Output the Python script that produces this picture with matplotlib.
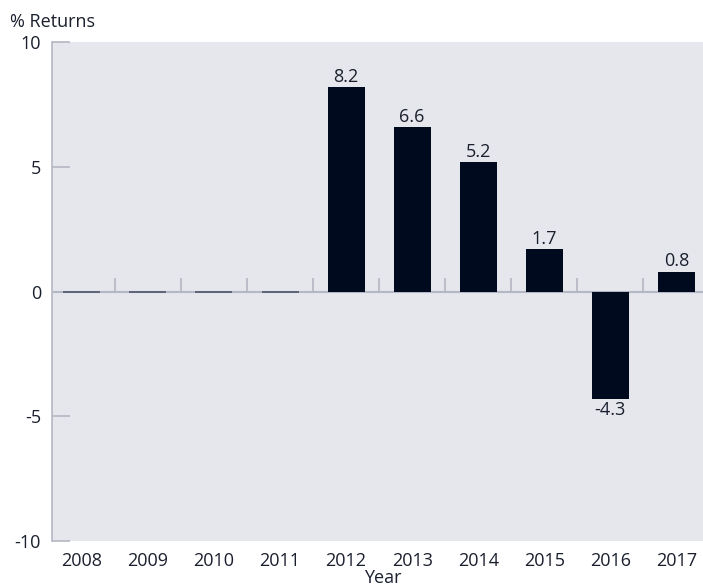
import matplotlib.pyplot as plt
import numpy as np

plt.rcParams['font.family'] = ['Open Sans', 'DejaVu Sans']

years = ['2008', '2009', '2010', '2011', '2012', '2013', '2014', '2015', '2016', '2017']
returns = [0, 0, 0, 0, 8.2, 6.6, 5.2, 1.7, -4.3, 0.8]
labels = ['', '', '', '', '8.2', '6.6', '5.2', '1.7', '-4.3', '0.8']

bar_col = '#000a1f'
bg = '#e6e7ec'
grey = '#b4b8c4'
text_col = '#1a1f2e'

fig = plt.figure(figsize=(7.03, 5.86), dpi=100)
ax = fig.add_axes([0.074, 0.077, 0.94, 0.851])
ax.set_facecolor(bg)

x = np.arange(len(years))
ax.axhline(0, color=grey, lw=1.5, zorder=1)
# short separators between categories on the zero line
ax.vlines(x[:-1] + 0.5, 0, 0.55, color=grey, lw=1.2, zorder=1)

for xi, v, lab in zip(x, returns, labels):
    if v == 0:
        ax.bar(xi, 0, width=0.56, color=bar_col, edgecolor='#5c6478', lw=1.4, zorder=2)
        continue
    ax.bar(xi, v, width=0.56, color=bar_col, zorder=2)
    if v > 0:
        ax.text(xi, v + 0.05, lab, ha='center', va='bottom', fontsize=13, color=text_col)
    else:
        ax.text(xi, v - 0.1, lab, ha='center', va='top', fontsize=13, color=text_col)

ax.set_xlim(-0.45, 9.55)
ax.set_ylim(-10, 10)
ax.set_yticks([-10, -5, 0, 5, 10])
ax.set_yticklabels(['-10', '-5', '0', '5', '10'])
ax.set_xticks(x)
ax.set_xticklabels(years)

for s in ['top', 'right', 'bottom']:
    ax.spines[s].set_visible(False)
ax.spines['left'].set_color(grey)
ax.spines['left'].set_linewidth(1.2)

ax.tick_params(axis='y', direction='in', length=13, width=1.2, color=grey,
               labelsize=13, labelcolor=text_col, pad=8)
ax.tick_params(axis='x', length=0, labelsize=13, labelcolor=text_col, pad=8)

ax.set_xlabel('Year', fontsize=13, color=text_col, labelpad=-1)
fig.text(0.014, 0.947, '% Returns', fontsize=13, color=text_col, ha='left', va='bottom')

fig.savefig('out.png', dpi=100)
